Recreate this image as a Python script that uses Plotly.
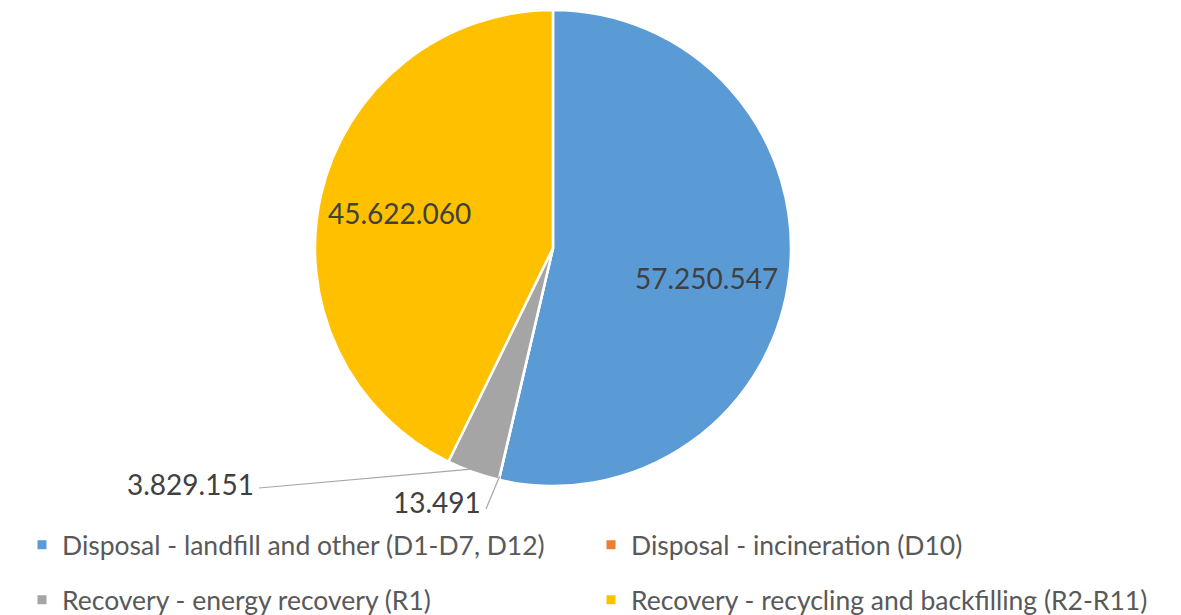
import math
import plotly.graph_objects as go

# data
categories = [
    "Disposal - landfill and other (D1-D7, D12)",
    "Disposal - incineration (D10)",
    "Recovery - energy recovery (R1)",
    "Recovery - recycling and backfilling (R2-R11)",
]
values = [57250547, 13491, 3829151, 45622060]
value_labels = ["57.250.547", "13.491", "3.829.151", "45.622.060"]
colors = ["#5B9BD5", "#ED7D31", "#A5A5A5", "#FFC000"]

W, H = 1181, 615
cx, cy, r = 553, 248, 238  # pie centre and radius in pixels


def px_to_paper(x, y):
    return x / W, 1 - y / H


fig = go.Figure()
fig.add_trace(go.Pie(
    labels=categories,
    values=values,
    sort=False,
    direction="clockwise",
    rotation=0,
    marker=dict(colors=colors, line=dict(color="white", width=2.5)),
    textinfo="none",
    hoverinfo="label+value",
    showlegend=False,
    domain=dict(x=[(cx - r) / W, (cx + r) / W], y=[1 - (cy + r) / H, 1 - (cy - r) / H]),
))

# legend entries (two rows, two per row)
for i, (name, color) in enumerate(zip(categories, colors)):
    fig.add_trace(go.Scatter(
        x=[None], y=[None], mode="markers", name=name,
        marker=dict(symbol="square", size=9, color=color),
        legend="legend" if i < 2 else "legend2",
        hoverinfo="skip",
    ))

# slice mid angles (clockwise from 12 o'clock)
total = sum(values)
mids = []
acc = 0
for v in values:
    mids.append(360 * (acc + v / 2) / total)
    acc += v


def polar(theta, d):
    t = math.radians(theta)
    return cx + d * math.sin(t), cy - d * math.cos(t)


annotations = []
shapes = []
label_font = dict(family="Lato, Open Sans, sans-serif", size=28, color="#404040")

# labels inside the two big slices
for i in (0, 3):
    x, y = polar(mids[i], 0.66 * r)
    if i == 0:
        y += 12
        x -= 3
    px_, py_ = px_to_paper(x, y)
    annotations.append(dict(x=px_, y=py_, xref="paper", yref="paper", text=value_labels[i],
                            showarrow=False, font=label_font, xanchor="center", yanchor="middle"))

# outside labels with leader lines for the two small slices
outside = {2: (256, 484, "right", (259, 488)), 1: (483, 502, "right", (486, 509))}
for i, (tx, ty, anchor, start) in outside.items():
    px_, py_ = px_to_paper(tx, ty)
    annotations.append(dict(x=px_, y=py_, xref="paper", yref="paper", text=value_labels[i],
                            showarrow=False, font=label_font, xanchor=anchor, yanchor="middle"))
    ex, ey = polar(mids[i], r * 0.985)
    x0, y0 = px_to_paper(*start)
    x1, y1 = px_to_paper(ex, ey)
    shapes.append(dict(type="line", xref="paper", yref="paper", x0=x0, y0=y0, x1=x1, y1=y1,
                       line=dict(color="#A6A6A6", width=1.2)))

legend_style = dict(
    orientation="h", xref="paper", yref="paper", x=22 / W, xanchor="left", yanchor="middle",
    entrywidth=524, entrywidthmode="pixels", bgcolor="rgba(0,0,0,0)",
    font=dict(family="Lato, Open Sans, sans-serif", size=26.5, color="#595959"),
)

fig.update_layout(
    width=W, height=H,
    margin=dict(t=0, b=0, l=0, r=0, autoexpand=False),
    paper_bgcolor="white",
    plot_bgcolor="white",
    xaxis=dict(visible=False),
    yaxis=dict(visible=False),
    legend=dict(legend_style, y=1 - 545 / H),
    legend2=dict(legend_style, y=1 - 600 / H),
    annotations=annotations,
    shapes=shapes,
)

# drop the browser's default body margin so the figure sits at the page corner
fig.write_html("out.html", config={"displayModeBar": False},
               post_script="document.body.style.margin='0';")
